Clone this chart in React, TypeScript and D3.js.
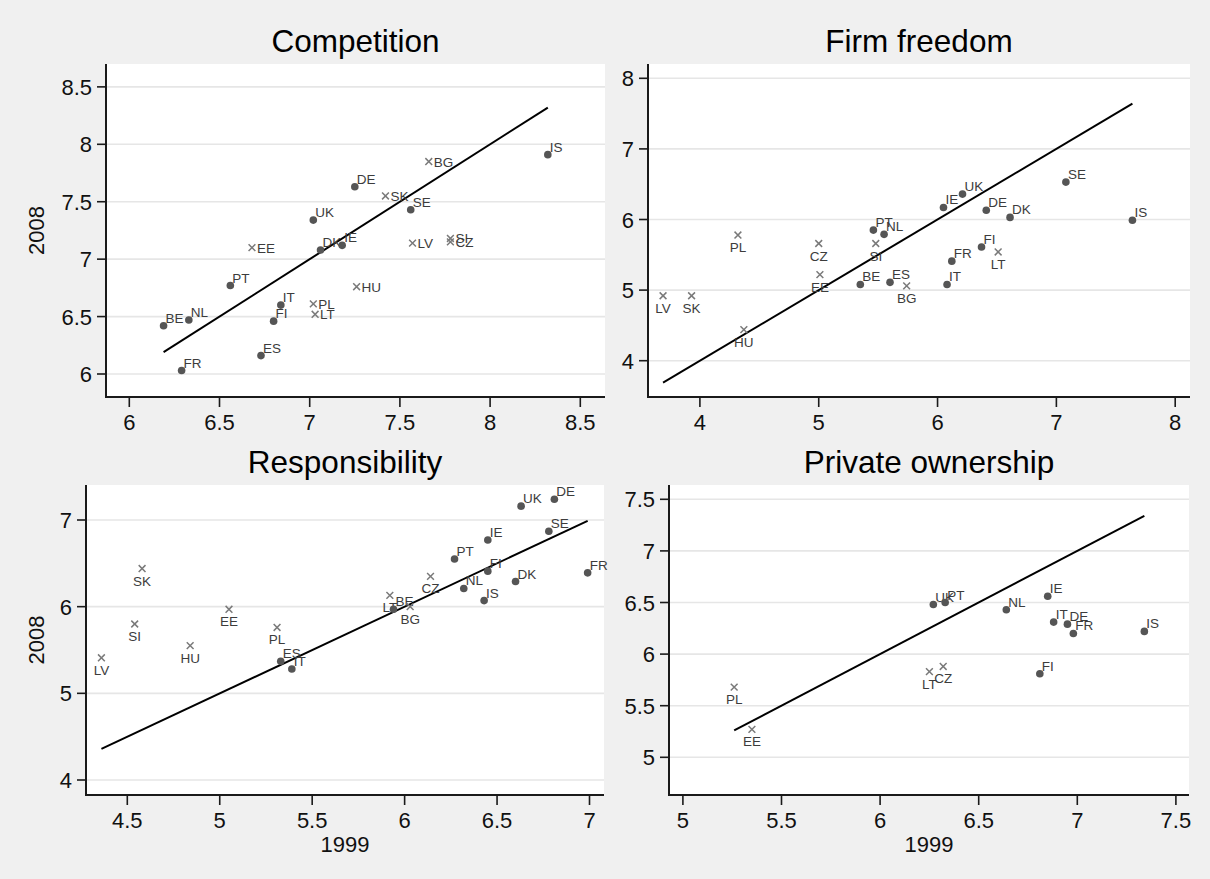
import React from "react";
import * as d3 from "d3";

type Pt = { c: string; x: number; y: number };

// New member states are drawn with an "x" marker, the others with a dot
const newMembers = ["BG", "CZ", "EE", "HU", "LT", "LV", "PL", "SI", "SK"];

const competition: Pt[] = [
  { c: "BE", x: 6.19, y: 6.42 },
  { c: "NL", x: 6.33, y: 6.47 },
  { c: "FR", x: 6.29, y: 6.03 },
  { c: "PT", x: 6.56, y: 6.77 },
  { c: "EE", x: 6.68, y: 7.1 },
  { c: "ES", x: 6.73, y: 6.16 },
  { c: "FI", x: 6.8, y: 6.46 },
  { c: "IT", x: 6.84, y: 6.6 },
  { c: "UK", x: 7.02, y: 7.34 },
  { c: "DK", x: 7.06, y: 7.08 },
  { c: "IE", x: 7.18, y: 7.12 },
  { c: "PL", x: 7.02, y: 6.61 },
  { c: "LT", x: 7.03, y: 6.52 },
  { c: "DE", x: 7.25, y: 7.63 },
  { c: "HU", x: 7.26, y: 6.76 },
  { c: "SK", x: 7.42, y: 7.55 },
  { c: "SE", x: 7.56, y: 7.43 },
  { c: "LV", x: 7.57, y: 7.14 },
  { c: "BG", x: 7.66, y: 7.85 },
  { c: "SI", x: 7.78, y: 7.18 },
  { c: "CZ", x: 7.78, y: 7.15 },
  { c: "IS", x: 8.32, y: 7.91 },
];

const firmFreedom: Pt[] = [
  { c: "LV", x: 3.69, y: 4.92 },
  { c: "SK", x: 3.93, y: 4.92 },
  { c: "PL", x: 4.32, y: 5.78 },
  { c: "HU", x: 4.37, y: 4.44 },
  { c: "CZ", x: 5.0, y: 5.66 },
  { c: "EE", x: 5.01, y: 5.22 },
  { c: "BE", x: 5.35, y: 5.08 },
  { c: "PT", x: 5.46, y: 5.85 },
  { c: "NL", x: 5.55, y: 5.79 },
  { c: "SI", x: 5.48, y: 5.66 },
  { c: "ES", x: 5.6, y: 5.11 },
  { c: "BG", x: 5.74, y: 5.06 },
  { c: "IE", x: 6.05, y: 6.17 },
  { c: "UK", x: 6.21, y: 6.36 },
  { c: "IT", x: 6.08, y: 5.08 },
  { c: "FR", x: 6.12, y: 5.41 },
  { c: "FI", x: 6.37, y: 5.61 },
  { c: "DE", x: 6.41, y: 6.13 },
  { c: "LT", x: 6.51, y: 5.54 },
  { c: "DK", x: 6.61, y: 6.03 },
  { c: "SE", x: 7.08, y: 6.53 },
  { c: "IS", x: 7.64, y: 5.99 },
];

const responsibility: Pt[] = [
  { c: "LV", x: 4.36, y: 5.41 },
  { c: "SK", x: 4.58, y: 6.44 },
  { c: "SI", x: 4.54, y: 5.8 },
  { c: "HU", x: 4.84, y: 5.55 },
  { c: "EE", x: 5.05, y: 5.97 },
  { c: "PL", x: 5.31, y: 5.76 },
  { c: "ES", x: 5.33, y: 5.37 },
  { c: "IT", x: 5.39, y: 5.28 },
  { c: "LT", x: 5.92, y: 6.13 },
  { c: "BE", x: 5.94, y: 5.97 },
  { c: "BG", x: 6.03, y: 6.0 },
  { c: "CZ", x: 6.14, y: 6.35 },
  { c: "PT", x: 6.27, y: 6.55 },
  { c: "NL", x: 6.32, y: 6.21 },
  { c: "IE", x: 6.45, y: 6.77 },
  { c: "FI", x: 6.45, y: 6.41 },
  { c: "IS", x: 6.43, y: 6.07 },
  { c: "DK", x: 6.6, y: 6.29 },
  { c: "UK", x: 6.63, y: 7.16 },
  { c: "SE", x: 6.78, y: 6.87 },
  { c: "DE", x: 6.81, y: 7.24 },
  { c: "FR", x: 6.99, y: 6.39 },
];

const privateOwnership: Pt[] = [
  { c: "PL", x: 5.26, y: 5.68 },
  { c: "EE", x: 5.35, y: 5.27 },
  { c: "UK", x: 6.27, y: 6.48 },
  { c: "PT", x: 6.33, y: 6.5 },
  { c: "LT", x: 6.25, y: 5.83 },
  { c: "CZ", x: 6.32, y: 5.88 },
  { c: "NL", x: 6.64, y: 6.43 },
  { c: "FI", x: 6.81, y: 5.81 },
  { c: "IE", x: 6.85, y: 6.56 },
  { c: "IT", x: 6.88, y: 6.31 },
  { c: "DE", x: 6.95, y: 6.29 },
  { c: "FR", x: 6.98, y: 6.2 },
  { c: "IS", x: 7.34, y: 6.22 },
];

const competitionXTicks = [6, 6.5, 7, 7.5, 8, 8.5];
const competitionYTicks = [6, 6.5, 7, 7.5, 8, 8.5];
const firmXTicks = [4, 5, 6, 7, 8];
const firmYTicks = [4, 5, 6, 7, 8];
const respXTicks = [4.5, 5, 5.5, 6, 6.5, 7];
const respYTicks = [4, 5, 6, 7];
const ownXTicks = [5, 5.5, 6, 6.5, 7, 7.5];
const ownYTicks = [5, 5.5, 6, 6.5, 7, 7.5];

const FONT = "Arial, 'Liberation Sans', Helvetica, sans-serif";

type PanelCfg = {
  title: string;
  data: Pt[];
  xTicks: number[];
  yTicks: number[];
  xDom: [number, number];
  xRng: [number, number];
  yDom: [number, number];
  yRng: [number, number];
  rect: { l: number; r: number; t: number; b: number };
  xLabel: boolean;
  yLabel: boolean;
  xMarkLabelRight: boolean;
};

const panels: PanelCfg[] = [
  {
    title: "Competition",
    data: competition,
    xTicks: competitionXTicks,
    yTicks: competitionYTicks,
    xDom: [6, 8.5],
    xRng: [129.3, 580.3],
    yDom: [6, 8],
    yRng: [374, 144.3],
    rect: { l: 106, r: 605, t: 64, b: 397 },
    xLabel: false,
    yLabel: true,
    xMarkLabelRight: true,
  },
  {
    title: "Firm freedom",
    data: firmFreedom,
    xTicks: firmXTicks,
    yTicks: firmYTicks,
    xDom: [4, 8],
    xRng: [699.9, 1175.2],
    yDom: [4, 8],
    yRng: [360.7, 78.3],
    rect: { l: 648, r: 1190, t: 64, b: 397 },
    xLabel: false,
    yLabel: false,
    xMarkLabelRight: false,
  },
  {
    title: "Responsibility",
    data: responsibility,
    xTicks: respXTicks,
    yTicks: respYTicks,
    xDom: [4.5, 7],
    xRng: [127.3, 589.5],
    yDom: [4, 7],
    yRng: [780, 520],
    rect: { l: 86, r: 604, t: 485, b: 795 },
    xLabel: true,
    yLabel: true,
    xMarkLabelRight: false,
  },
  {
    title: "Private ownership",
    data: privateOwnership,
    xTicks: ownXTicks,
    yTicks: ownYTicks,
    xDom: [5, 7.5],
    xRng: [682.9, 1175.9],
    yDom: [5, 7.5],
    yRng: [757.3, 499.3],
    rect: { l: 669, r: 1189, t: 485, b: 795 },
    xLabel: true,
    yLabel: false,
    xMarkLabelRight: false,
  },
];

function Panel({ p }: { p: PanelCfg }) {
  const x = d3.scaleLinear().domain(p.xDom).range(p.xRng);
  const y = d3.scaleLinear().domain(p.yDom).range(p.yRng);
  const { l, r, t, b } = p.rect;
  const xs = p.data.map((d) => d.x);
  const lo = d3.min(xs) as number;
  const hi = d3.max(xs) as number;
  const line = d3
    .line<number>()
    .x((v) => x(v))
    .y((v) => y(v));
  const fmt = (v: number) => String(v);
  return (
    <g>
      <rect x={l} y={t} width={r - l} height={b - t} fill="#ffffff" />
      {p.yTicks.map((v) => (
        <line key={"g" + v} x1={l} x2={r} y1={y(v)} y2={y(v)} stroke="#e6e6e6" strokeWidth={1.6} />
      ))}
      <path d={line([lo, hi]) || ""} fill="none" stroke="#000" strokeWidth={2} />
      {p.data.map((d) => {
        const cx = x(d.x);
        const cy = y(d.y);
        const isNew = newMembers.includes(d.c);
        if (isNew) {
          const s = 3.4;
          return (
            <g key={d.c}>
              <path
                d={`M${cx - s},${cy - s}L${cx + s},${cy + s}M${cx - s},${cy + s}L${cx + s},${cy - s}`}
                stroke="#7a7a7a"
                strokeWidth={1.5}
                fill="none"
              />
              {p.xMarkLabelRight ? (
                <text x={cx + 5} y={cy + 5} fontSize={13.5} fill="#3c3c3c" fontFamily={FONT}>
                  {d.c}
                </text>
              ) : (
                <text x={cx} y={cy + 17} fontSize={13.5} fill="#3c3c3c" fontFamily={FONT} textAnchor="middle">
                  {d.c}
                </text>
              )}
            </g>
          );
        }
        return (
          <g key={d.c}>
            <circle cx={cx} cy={cy} r={3.8} fill="#555555" />
            <text x={cx + 2} y={cy - 3} fontSize={13.5} fill="#3c3c3c" fontFamily={FONT}>
              {d.c}
            </text>
          </g>
        );
      })}
      {/* axes */}
      <line x1={l} x2={l} y1={t} y2={b + 1} stroke="#1a1a1a" strokeWidth={2} />
      <line x1={l - 1} x2={r} y1={b} y2={b} stroke="#1a1a1a" strokeWidth={2} />
      {p.yTicks.map((v) => (
        <g key={"yt" + v}>
          <line x1={l - 9} x2={l} y1={y(v)} y2={y(v)} stroke="#1a1a1a" strokeWidth={1.6} />
          <text x={l - 14} y={y(v) + 8} fontSize={22} textAnchor="end" fill="#111" fontFamily={FONT}>
            {fmt(v)}
          </text>
        </g>
      ))}
      {p.xTicks.map((v) => (
        <g key={"xt" + v}>
          <line x1={x(v)} x2={x(v)} y1={b} y2={b + 10} stroke="#1a1a1a" strokeWidth={1.6} />
          <text x={x(v)} y={b + 33} fontSize={22} textAnchor="middle" fill="#111" fontFamily={FONT}>
            {fmt(v)}
          </text>
        </g>
      ))}
      <text x={(l + r) / 2} y={t - 12} fontSize={31.5} textAnchor="middle" fill="#000" fontFamily={FONT}>
        {p.title}
      </text>
      {p.xLabel && (
        <text x={(l + r) / 2} y={b + 57} fontSize={22} textAnchor="middle" fill="#111" fontFamily={FONT}>
          1999
        </text>
      )}
      {p.yLabel && (
        <text
          transform={`translate(${44},${(t + b) / 2}) rotate(-90)`}
          fontSize={22}
          textAnchor="middle"
          fill="#111"
          fontFamily={FONT}
        >
          2008
        </text>
      )}
    </g>
  );
}

export default function App() {
  return (
    <div style={{ position: "absolute", left: 0, top: 0 }}>
      <svg width={1210} height={879} style={{ display: "block" }}>
        <rect x={0} y={0} width={1210} height={879} fill="#f0f0f0" />
        {panels.map((p) => (
          <Panel key={p.title} p={p} />
        ))}
      </svg>
    </div>
  );
}
